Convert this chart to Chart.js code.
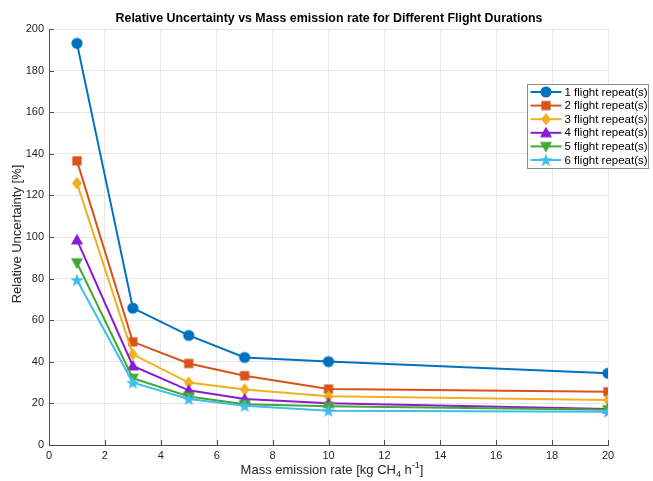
<!DOCTYPE html>
<html>
<head>
<meta charset="utf-8">
<script src="https://cdn.jsdelivr.net/npm/chart.js@4"></script>
<style>
  html, body { margin: 0; padding: 0; background: #fff; }
  #wrap { width: 653px; height: 481px; }
</style>
</head>
<body>
<div id="wrap"><canvas id="uncertaintyChart" width="653" height="481"></canvas></div>
<script>
// Mass emission rates (kg CH4 / h)
const emissionRates = [1, 3, 5, 7, 10, 20];

// Relative uncertainty (%) per number of flight repeats
const oneRepeat = [193.1, 65.8, 52.7, 42.1, 40.1, 34.5];
const twoRepeats = [136.6, 49.6, 39.2, 33.3, 26.9, 25.6];
const threeRepeats = [125.9, 43.6, 30.0, 26.7, 23.4, 21.6];
const fourRepeats = [98.6, 38.0, 26.3, 22.1, 20.1, 17.3];
const fiveRepeats = [87.6, 32.1, 23.3, 19.6, 18.6, 17.0];
const sixRepeats = [79.3, 30.0, 22.1, 18.9, 16.5, 16.0];

const seriesLabels = ['1 flight repeat(s)', '2 flight repeat(s)', '3 flight repeat(s)',
                      '4 flight repeat(s)', '5 flight repeat(s)', '6 flight repeat(s)'];
const seriesColors = ['#0072BD', '#D95319', '#EDB120', '#8A1AD6', '#44A830', '#3DBEEE'];
const seriesShapes = ['circle', 'square', 'diamond', 'triangle', 'triangleDown', 'star'];

const FONT = '"Liberation Sans", Arial, Helvetica, sans-serif';

// marker images, so every shape (incl. the filled star) looks the same in plot and legend
function makeMarker(shape, color) {
    const s = 16;
    const c = document.createElement('canvas');
    c.width = s; c.height = s;
    const g = c.getContext('2d');
    const m = s / 2;
    g.fillStyle = color;
    g.beginPath();
    if (shape === 'circle') {
        g.arc(m, m, 5.6, 0, Math.PI * 2);
    } else if (shape === 'square') {
        g.rect(m - 4.6, m - 4.6, 9.2, 9.2);
    } else if (shape === 'diamond') {
        g.moveTo(m, m - 6.2); g.lineTo(m + 5, m); g.lineTo(m, m + 6.2); g.lineTo(m - 5, m);
    } else if (shape === 'triangle') {
        g.moveTo(m, m - 6.2); g.lineTo(m + 6, m + 4.6); g.lineTo(m - 6, m + 4.6);
    } else if (shape === 'triangleDown') {
        g.moveTo(m, m + 6.2); g.lineTo(m + 6, m - 4.6); g.lineTo(m - 6, m - 4.6);
    } else if (shape === 'star') {
        for (let i = 0; i < 10; i++) {
            const r = i % 2 === 0 ? 7 : 2.9;
            const a = -Math.PI / 2 + i * Math.PI / 5;
            const px = m + r * Math.cos(a), py = m + r * Math.sin(a) + 0.6;
            if (i === 0) g.moveTo(px, py); else g.lineTo(px, py);
        }
    }
    g.closePath();
    g.fill();
    return c;
}

const markers = seriesShapes.map((s, i) => makeMarker(s, seriesColors[i]));
const allSeries = [oneRepeat, twoRepeats, threeRepeats, fourRepeats, fiveRepeats, sixRepeats];

const datasets = allSeries.map((vals, i) => ({
    label: seriesLabels[i],
    data: emissionRates.map((x, j) => ({ x: x, y: vals[j] })),
    borderColor: seriesColors[i],
    backgroundColor: seriesColors[i],
    borderWidth: 2,
    pointStyle: markers[i],
    pointRadius: 6,
    tension: 0,
    order: allSeries.length - 1 - i
}));

// titles, inward tick marks and the boxed legend
const decorations = {
    id: 'decorations',
    afterDraw(chart) {
        const ctx = chart.ctx;
        const area = chart.chartArea;
        const xs = chart.scales.x, ys = chart.scales.y;
        ctx.save();

        // inward tick marks
        ctx.strokeStyle = '#4d4d4d';
        ctx.lineWidth = 1;
        ctx.beginPath();
        xs.ticks.forEach(t => {
            const px = Math.round(xs.getPixelForValue(t.value)) + 0.5;
            ctx.moveTo(px, area.bottom); ctx.lineTo(px, area.bottom - 5);
        });
        ys.ticks.forEach(t => {
            const py = Math.round(ys.getPixelForValue(t.value)) + 0.5;
            ctx.moveTo(area.left, py); ctx.lineTo(area.left + 5, py);
        });
        ctx.stroke();

        // title
        ctx.fillStyle = '#000';
        ctx.font = 'bold 12.4px ' + FONT;
        ctx.textAlign = 'center';
        ctx.textBaseline = 'alphabetic';
        ctx.fillText('Relative Uncertainty vs Mass emission rate for Different Flight Durations', 329, 22);

        // y axis title
        ctx.fillStyle = '#262626';
        ctx.font = '13px ' + FONT;
        ctx.save();
        ctx.translate(21, 234);
        ctx.rotate(-Math.PI / 2);
        ctx.fillText('Relative Uncertainty [%]', 0, 0);
        ctx.restore();

        // x axis title with sub- and superscript
        const parts = [
            { t: 'Mass emission rate [kg CH', size: 13, dy: 0 },
            { t: '4', size: 9, dy: 3 },
            { t: ' h', size: 13, dy: 0 },
            { t: '-1', size: 9, dy: -6 },
            { t: ']', size: 13, dy: 0 }
        ];
        let total = 0;
        parts.forEach(p => { ctx.font = p.size + 'px ' + FONT; p.w = ctx.measureText(p.t).width; total += p.w; });
        let cx = 332 - total / 2;
        ctx.textAlign = 'left';
        parts.forEach(p => {
            ctx.font = p.size + 'px ' + FONT;
            ctx.fillText(p.t, cx, 474 + p.dy);
            cx += p.w;
        });

        // legend
        const lx = 527.5, ly = 84.5, lw = 121, lh = 84;
        ctx.fillStyle = '#fff';
        ctx.fillRect(lx, ly, lw, lh);
        ctx.strokeStyle = '#8c8c8c';
        ctx.strokeRect(lx, ly, lw, lh);
        ctx.font = '11.5px ' + FONT;
        ctx.textBaseline = 'middle';
        seriesLabels.forEach((lab, i) => {
            const ry = ly + 7.5 + i * 13.6;
            ctx.strokeStyle = seriesColors[i];
            ctx.lineWidth = 2;
            ctx.beginPath();
            ctx.moveTo(lx + 3, ry); ctx.lineTo(lx + 34, ry);
            ctx.stroke();
            ctx.drawImage(markers[i], lx + 18.5 - 8, ry - 8);
            ctx.fillStyle = '#000';
            ctx.fillText(lab, lx + 37, ry + 0.5);
        });
        ctx.restore();
    }
};

new Chart(document.getElementById('uncertaintyChart'), {
    type: 'line',
    data: { datasets: datasets },
    options: {
        responsive: false,
        animation: false,
        layout: { padding: { top: 29, right: 45, left: 0, bottom: 0 } },
        plugins: {
            legend: { display: false },
            tooltip: { enabled: false }
        },
        scales: {
            x: {
                type: 'linear',
                min: 0, max: 20,
                ticks: { stepSize: 2, color: '#262626', font: { family: FONT, size: 11 }, padding: 4, maxRotation: 0 },
                grid: { color: '#e6e6e6', drawTicks: false },
                border: { color: '#4d4d4d', width: 1 },
                afterFit: scale => { scale.height = 36; }
            },
            y: {
                min: 0, max: 200,
                ticks: { stepSize: 20, color: '#262626', font: { family: FONT, size: 11 }, padding: 5 },
                grid: { color: '#e6e6e6', drawTicks: false },
                border: { color: '#4d4d4d', width: 1 },
                afterFit: scale => { scale.width = 49; }
            }
        }
    },
    plugins: [decorations]
});
</script>
</body>
</html>
